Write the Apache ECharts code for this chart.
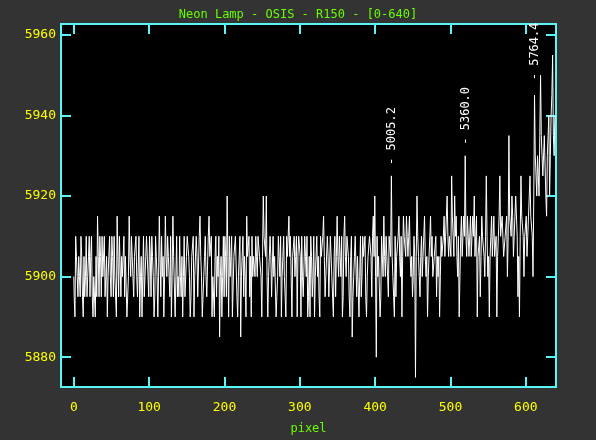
<!DOCTYPE html>
<html>
<head>
<meta charset="utf-8">
<script src="https://cdn.jsdelivr.net/npm/echarts@6/dist/echarts.min.js"></script>
<style>
html,body{margin:0;padding:0;background:#333333;}
#chart{width:596px;height:440px;}
</style>
</head>
<body>
<div id="chart"></div>
<script>
// ---- data ----
const titleText = 'Neon Lamp - OSIS - R150 - [0-640]';
const xName = 'pixel';
// one value per pixel, pixel 0 .. 639
const counts = [
  5900,5895,5890,5910,5905,5900,5895,5905,5900,5895,5910,5905,5895,5890,5905,5895,5900,5910,5895,5900,
  5905,5910,5895,5905,5910,5895,5890,5900,5900,5890,5905,5895,5915,5905,5895,5910,5905,5895,5910,5900,
  5900,5910,5895,5900,5905,5890,5900,5905,5910,5900,5895,5910,5905,5895,5910,5900,5900,5890,5915,5905,
  5895,5910,5910,5895,5905,5900,5900,5910,5895,5905,5905,5890,5890,5900,5915,5905,5900,5910,5910,5900,
  5895,5905,5905,5910,5900,5895,5895,5910,5890,5900,5905,5890,5900,5910,5895,5900,5905,5910,5910,5900,
  5895,5910,5905,5895,5910,5905,5900,5890,5895,5910,5905,5900,5890,5900,5915,5905,5895,5910,5900,5905,
  5890,5900,5915,5905,5900,5910,5905,5900,5895,5910,5890,5900,5915,5905,5905,5890,5900,5910,5895,5900,
  5895,5910,5900,5895,5905,5890,5900,5910,5895,5900,5905,5910,5910,5905,5900,5890,5895,5905,5905,5910,
  5890,5900,5900,5910,5905,5895,5895,5910,5915,5905,5900,5890,5890,5900,5905,5910,5900,5895,5895,5910,
  5915,5905,5905,5910,5890,5900,5900,5890,5905,5910,5895,5905,5900,5910,5885,5900,5905,5890,5900,5910,
  5895,5910,5905,5895,5920,5905,5890,5910,5900,5905,5910,5890,5890,5905,5905,5910,5910,5895,5890,5900,
  5900,5910,5885,5900,5905,5910,5895,5905,5900,5890,5915,5905,5905,5910,5895,5905,5890,5910,5900,5905,
  5905,5900,5910,5905,5900,5910,5910,5905,5905,5900,5890,5905,5920,5910,5910,5905,5920,5900,5890,5900,
  5900,5910,5905,5895,5895,5910,5900,5905,5905,5890,5895,5900,5910,5905,5900,5910,5890,5900,5905,5910,
  5900,5895,5890,5910,5905,5910,5915,5905,5910,5900,5890,5905,5905,5910,5900,5905,5910,5890,5905,5910,
  5910,5905,5890,5910,5900,5895,5895,5910,5905,5900,5910,5890,5895,5905,5890,5910,5905,5895,5900,5910,
  5890,5900,5905,5910,5900,5905,5895,5890,5910,5905,5905,5910,5915,5905,5895,5900,5900,5910,5905,5895,
  5895,5910,5910,5900,5900,5890,5905,5910,5895,5905,5915,5905,5900,5910,5905,5900,5910,5890,5895,5910,
  5915,5905,5900,5910,5910,5905,5895,5890,5905,5910,5885,5895,5900,5905,5910,5910,5895,5905,5905,5890,
  5900,5910,5895,5900,5910,5905,5905,5910,5895,5890,5900,5905,5905,5910,5910,5905,5895,5910,5915,5905,
  5920,5900,5880,5910,5900,5905,5905,5890,5895,5910,5910,5900,5915,5905,5900,5910,5905,5900,5895,5910,
  5910,5905,5925,5905,5900,5895,5890,5910,5895,5905,5905,5910,5915,5905,5900,5910,5890,5905,5915,5910,
  5910,5905,5915,5910,5905,5910,5915,5905,5900,5905,5895,5900,5910,5905,5875,5905,5920,5910,5905,5900,
  5895,5905,5910,5900,5905,5910,5915,5905,5900,5905,5890,5900,5905,5910,5915,5905,5910,5900,5900,5905,
  5905,5910,5895,5905,5900,5905,5890,5900,5910,5905,5905,5910,5915,5905,5910,5915,5920,5910,5905,5910,
  5910,5905,5925,5915,5910,5905,5920,5910,5915,5905,5900,5910,5890,5900,5910,5915,5905,5910,5915,5910,
  5930,5910,5905,5915,5915,5905,5910,5915,5905,5910,5915,5910,5920,5905,5910,5915,5890,5905,5905,5910,
  5895,5905,5915,5910,5910,5905,5900,5910,5925,5910,5900,5905,5890,5905,5910,5915,5905,5910,5915,5905,
  5905,5910,5890,5905,5910,5915,5925,5910,5910,5915,5915,5905,5905,5910,5910,5915,5900,5910,5935,5915,
  5915,5910,5920,5915,5905,5910,5915,5920,5920,5910,5895,5905,5890,5910,5925,5915,5915,5910,5900,5910,
  5910,5915,5905,5910,5915,5920,5925,5915,5915,5910,5900,5920,5945,5930,5925,5920,5930,5925,5920,5935,
  5950,5935,5930,5925,5925,5935,5935,5920,5915,5930,5935,5940,5920,5930,5940,5945,5955,5935,5930,5940
];
const lineLabels = ['5005.2', '5360.0', '5764.4'];
const lineX = [422, 520, 612];
const lineY = [5925, 5930, 5946];
const xTicks = [0, 100, 200, 300, 400, 500, 600];
const yTicks = [5880, 5900, 5920, 5940, 5960];
const xRange = [-17, 640];
const yRange = [5872.6, 5962.7];

// ---- styling ----
const cyan = '#58f6f6';
const yellow = '#ffff00';
const green = '#66ff00';
const mono = '"DejaVu Sans Mono", "Liberation Mono", monospace';

const seriesData = counts.map((v, i) => [i, v]);
const annData = lineX.map((x, i) => [x, lineY[i]]);

function axisBase(pos, isX, showLabels) {
  const ticks = isX ? xTicks : yTicks;
  const rng = isX ? xRange : yRange;
  return {
    type: 'value',
    position: pos,
    min: rng[0], max: rng[1],
    scale: true,
    axisLine: { show: true, onZero: false, lineStyle: { color: cyan, width: 2 } },
    axisTick: { show: true, inside: true, length: 10, customValues: ticks, lineStyle: { color: cyan, width: 2 } },
    axisLabel: {
      show: showLabels, customValues: ticks, color: yellow,
      fontFamily: mono, fontSize: 13, margin: isX ? 14 : 5,
      formatter: function (v) { return String(v); },
      showMinLabel: true, showMaxLabel: true
    },
    splitLine: { show: false },
    minorTick: { show: false }
  };
}

const chart = echarts.init(document.getElementById('chart'), null, { renderer: 'canvas' });
const xMain = axisBase('bottom', true, true);
xMain.name = xName;
xMain.nameLocation = 'middle';
xMain.nameGap = 36;
xMain.nameTextStyle = { color: green, fontFamily: mono, fontSize: 12 };

chart.setOption({
  backgroundColor: '#333333',
  animation: false,
  title: {
    text: titleText, left: 'center', top: 4,
    textStyle: { color: green, fontFamily: mono, fontSize: 12, fontWeight: 'normal' }
  },
  grid: {
    left: 61, top: 24, right: 40, bottom: 50,
    show: true, backgroundColor: '#000000', borderColor: cyan, borderWidth: 2
  },
  xAxis: [xMain, axisBase('top', true, false)],
  yAxis: [axisBase('left', false, true), axisBase('right', false, false)],
  series: [
    {
      type: 'line', xAxisIndex: 0, yAxisIndex: 0,
      data: seriesData, step: 'middle', showSymbol: false, symbol: 'none',
      lineStyle: { color: '#ffffff', width: 1 }, silent: true
    },
    {
      type: 'custom', xAxisIndex: 0, yAxisIndex: 0,
      data: annData, silent: true,
      renderItem: function (params, api) {
        const p = api.coord([api.value(0), api.value(1)]);
        return {
          type: 'text',
          x: p[0], y: p[1] - 11,
          rotation: Math.PI / 2,
          style: {
            text: '- ' + lineLabels[params.dataIndex],
            fill: '#ffffff',
            font: '12px ' + mono,
            align: 'left',
            verticalAlign: 'middle'
          }
        };
      }
    }
  ]
});
</script>
</body>
</html>
